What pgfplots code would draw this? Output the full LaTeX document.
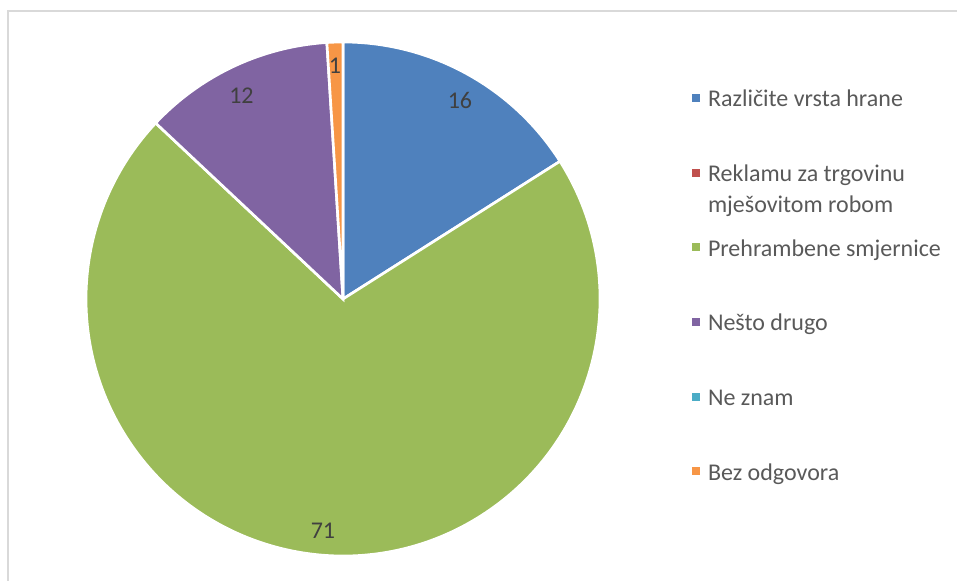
\documentclass[border=0pt]{standalone}
\usepackage{pgfplots}
\pgfplotsset{compat=1.18}
\usepackage{fontspec}
\setmainfont{Carlito}

\definecolor{sBlue}{HTML}{4F81BD}
\definecolor{sRed}{HTML}{C0504D}
\definecolor{sGreen}{HTML}{9BBB59}
\definecolor{sPurple}{HTML}{8064A2}
\definecolor{sTeal}{HTML}{4BACC6}
\definecolor{sOrange}{HTML}{F79646}
\definecolor{legendtxt}{HTML}{595959}
\definecolor{labeltxt}{HTML}{404040}
\definecolor{frame}{HTML}{D9D9D9}

% shares in per cent, clockwise from 12 o'clock
\def\vA{16} % Različite vrsta hrane
\def\vB{0}  % Reklamu za trgovinu mješovitom robom
\def\vC{71} % Prehrambene smjernice
\def\vD{12} % Nešto drugo
\def\vE{0}  % Ne znam
\def\vF{1}  % Bez odgovora
\pgfmathsetmacro\aA{90}
\pgfmathsetmacro\aB{\aA-3.6*\vA}
\pgfmathsetmacro\aC{\aB-3.6*\vB}
\pgfmathsetmacro\aD{\aC-3.6*\vC}
\pgfmathsetmacro\aE{\aD-3.6*\vD}
\pgfmathsetmacro\aF{\aE-3.6*\vE}
\pgfmathsetmacro\aG{\aF-3.6*\vF}
\def\R{192.75pt}

\begin{document}
\begin{tikzpicture}
\useasboundingbox (0pt,0pt) rectangle (717.75pt,435.75pt);
\draw[frame, line width=1.5pt] (6pt,-5pt) -- (6pt,427.5pt) -- (725pt,427.5pt);
\begin{axis}[
    at={(257.25pt,211.5pt)}, anchor=center,
    x=192.75pt, y=192.75pt,
    xmin=-1, xmax=1, ymin=-1, ymax=1,
    hide axis, clip=false,
    data cs=polar,
    every axis plot/.append style={draw=white, line width=2pt},
    legend cell align=left,
    legend image code/.code={\fill[#1, draw=none] (0pt,-3pt) rectangle (6pt,3pt);},
    legend style={
        at={(axis cs:1.358,0.8156)}, anchor=north west,
        draw=none, fill=none, inner sep=0pt, outer sep=0pt,
        column sep=6pt, row sep=43pt,
        font=\fontsize{18}{23.25}\selectfont, text=legendtxt,
        nodes={inner sep=0pt, outer sep=0pt,
               text height=13pt, text depth=0pt},
    },
]
\addplot[fill=sBlue] coordinates {(0,0) (\aA,1)}
    arc[start angle=\aA, end angle=\aB, radius=\R] -- cycle;
\addlegendentry{Različite vrsta hrane}
\addlegendimage{fill=sRed}
\addlegendentry{\parbox[t]{200pt}{Reklamu za trgovinu\\mješovitom robom}}
\addplot[fill=sGreen] coordinates {(0,0) (\aC,1)}
    arc[start angle=\aC, end angle=\aD, radius=\R] -- cycle;
\addlegendentry{Prehrambene smjernice}
\addplot[fill=sPurple] coordinates {(0,0) (\aD,1)}
    arc[start angle=\aD, end angle=\aE, radius=\R] -- cycle;
\addlegendentry{Nešto drugo}
\addlegendimage{fill=sTeal}
\addlegendentry{Ne znam}
\addplot[fill=sOrange] coordinates {(0,0) (\aF,1)}
    arc[start angle=\aF, end angle=\aG, radius=\R] -- cycle;
\addlegendentry{Bez odgovora}

\begin{scope}[font=\fontsize{18}{22}\selectfont, text=labeltxt]
\node at (axis cs:0.455,0.774) {16};
\node at (axis cs:-0.078,-0.901) {71};
\node at (axis cs:-0.395,0.790) {12};
\node at (axis cs:-0.031,0.907) {1};
\end{scope}
\end{axis}
\end{tikzpicture}
\end{document}
